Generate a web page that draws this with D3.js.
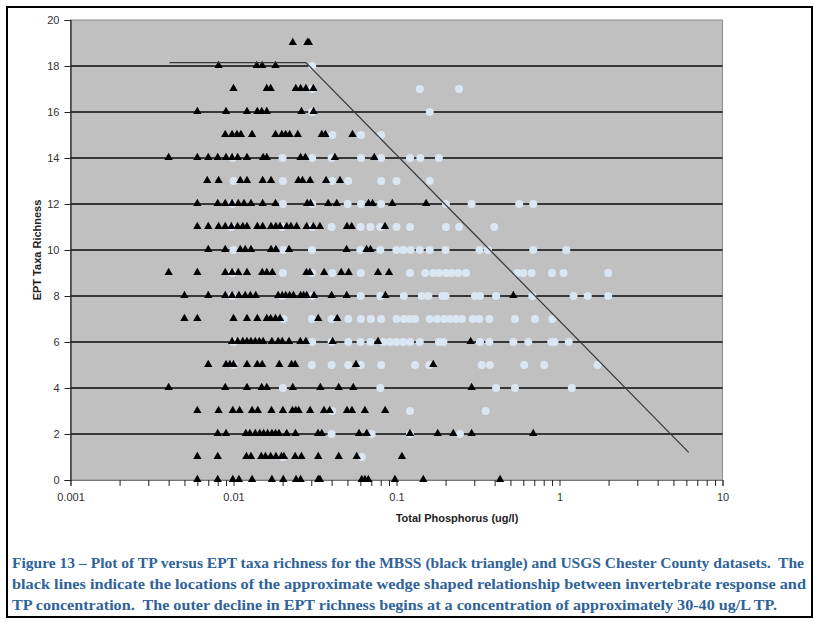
<!DOCTYPE html>
<html>
<head>
<meta charset="utf-8">
<script src="https://cdn.jsdelivr.net/npm/d3@7"></script>
<style>
  html, body { margin: 0; padding: 0; background: #fff; }
  svg { display: block; }
  .caption { white-space: pre; }
</style>
</head>
<body>
<svg id="chart" width="815" height="623"></svg>
<script>
// Total phosphorus (TP) values grouped by EPT taxa richness (array index = richness).
const mbssTP = [
  /* 0 */ [0.0060, 0.0080, 0.0099, 0.0108, 0.0130, 0.0172, 0.0202, 0.0242, 0.0258, 0.0331, 0.0339, 0.0612, 0.0640, 0.0671, 0.0978, 0.146, 0.432],
  /* 1 */ [0.0060, 0.0080, 0.0120, 0.0128, 0.0148, 0.0157, 0.0169, 0.0182, 0.0197, 0.0204, 0.0239, 0.0261, 0.0331, 0.0442, 0.0570, 0.108],
  /* 2 */ [0.0080, 0.0090, 0.0119, 0.0126, 0.0136, 0.0145, 0.0153, 0.0162, 0.0172, 0.0181, 0.0190, 0.0212, 0.0240, 0.0330, 0.0348, 0.0589, 0.0657, 0.121, 0.179, 0.223, 0.289, 0.690],
  /* 3 */ [0.0060, 0.0081, 0.0099, 0.0109, 0.0130, 0.0141, 0.0171, 0.0201, 0.0230, 0.0241, 0.0251, 0.0295, 0.0359, 0.0389, 0.0497, 0.0533, 0.0640, 0.0852],
  /* 4 */ [0.0040, 0.0089, 0.0121, 0.0149, 0.0160, 0.0231, 0.0341, 0.0442, 0.0543, 0.289],
  /* 5 */ [0.0070, 0.0090, 0.0095, 0.0100, 0.0121, 0.0140, 0.0150, 0.0191, 0.0227, 0.0239, 0.0564, 0.168],
  /* 6 */ [0.0098, 0.0106, 0.0114, 0.0121, 0.0128, 0.0136, 0.0144, 0.0152, 0.0172, 0.0188, 0.0199, 0.0219, 0.0257, 0.0278, 0.0406, 0.0770, 0.285],
  /* 7 */ [0.0050, 0.0060, 0.0100, 0.0121, 0.0140, 0.0160, 0.0169, 0.0181, 0.0193, 0.0331, 0.0433],
  /* 8 */ [0.0050, 0.0070, 0.0089, 0.0098, 0.0108, 0.0118, 0.0127, 0.0137, 0.0188, 0.0199, 0.0209, 0.0221, 0.0233, 0.0258, 0.0269, 0.0281, 0.0312, 0.0400, 0.0495, 0.0855, 0.521],
  /* 9 */ [0.0040, 0.0060, 0.0089, 0.0098, 0.0107, 0.0121, 0.0150, 0.0160, 0.0173, 0.0280, 0.0294, 0.0360, 0.0458, 0.0509, 0.0770, 0.0900],
  /* 10 */ [0.0070, 0.0089, 0.0110, 0.0118, 0.0128, 0.0170, 0.0182, 0.0219, 0.0494, 0.0655, 0.0692],
  /* 11 */ [0.0060, 0.0070, 0.0081, 0.0089, 0.0097, 0.0106, 0.0114, 0.0121, 0.0140, 0.0151, 0.0170, 0.0182, 0.0193, 0.0212, 0.0225, 0.0244, 0.0281, 0.0309, 0.0339, 0.0497, 0.0531, 0.0850],
  /* 12 */ [0.0060, 0.0080, 0.0089, 0.0098, 0.0107, 0.0116, 0.0128, 0.0151, 0.0181, 0.0283, 0.0297, 0.0381, 0.0430, 0.0673, 0.0713, 0.0942, 0.152],
  /* 13 */ [0.0069, 0.0081, 0.0110, 0.0121, 0.0151, 0.0170, 0.0250, 0.0265, 0.0295, 0.0370, 0.0450],
  /* 14 */ [0.0040, 0.0060, 0.0070, 0.0080, 0.0090, 0.0098, 0.0106, 0.0121, 0.0152, 0.0160, 0.0258, 0.0276, 0.0419, 0.0730],
  /* 15 */ [0.0089, 0.0098, 0.0105, 0.0111, 0.0130, 0.0181, 0.0198, 0.0209, 0.0221, 0.0248, 0.0348, 0.0366, 0.0537],
  /* 16 */ [0.0060, 0.0090, 0.0121, 0.0140, 0.0149, 0.0160, 0.0261, 0.0310],
  /* 17 */ [0.0100, 0.0160, 0.0169, 0.0241, 0.0258, 0.0278, 0.0309],
  /* 18 */ [0.0081, 0.0139, 0.0150, 0.0181],
  /* 19 */ [0.0231, 0.0284, 0.0290]
];

const usgsTP = [
  /* 0 */ [],
  /* 1 */ [0.0201, 0.0612],
  /* 2 */ [0.0400, 0.0704, 0.121, 0.245],
  /* 3 */ [0.0403, 0.121, 0.352],
  /* 4 */ [0.0201, 0.0796, 0.408, 0.533, 1.19],
  /* 5 */ [0.0100, 0.0302, 0.0400, 0.0506, 0.0604, 0.0805, 0.130, 0.159, 0.333, 0.374, 0.608, 0.806, 1.71],
  /* 6 */ [0.0100, 0.0304, 0.0400, 0.0506, 0.0602, 0.0692, 0.0831, 0.0912, 0.100, 0.110, 0.121, 0.139, 0.182, 0.194, 0.325, 0.371, 0.521, 0.643, 0.890, 0.933, 1.14],
  /* 7 */ [0.0203, 0.0303, 0.0400, 0.0506, 0.0604, 0.0697, 0.0805, 0.100, 0.111, 0.121, 0.130, 0.160, 0.177, 0.196, 0.213, 0.232, 0.252, 0.294, 0.322, 0.371, 0.533, 0.707, 0.904],
  /* 8 */ [0.0098, 0.0199, 0.0303, 0.0604, 0.0796, 0.111, 0.143, 0.157, 0.191, 0.200, 0.303, 0.325, 0.408, 0.681, 1.22, 1.49, 1.99],
  /* 9 */ [0.0098, 0.0201, 0.0303, 0.0403, 0.0604, 0.121, 0.150, 0.168, 0.182, 0.201, 0.218, 0.239, 0.267, 0.551, 0.600, 0.675, 0.900, 1.06, 1.99],
  /* 10 */ [0.0100, 0.0202, 0.0303, 0.0600, 0.0795, 0.0997, 0.110, 0.122, 0.139, 0.160, 0.200, 0.323, 0.364, 0.690, 1.10],
  /* 11 */ [0.0097, 0.0199, 0.0304, 0.0400, 0.0602, 0.0692, 0.0796, 0.100, 0.121, 0.201, 0.242, 0.398],
  /* 12 */ [0.0098, 0.0201, 0.0304, 0.0502, 0.0606, 0.0805, 0.201, 0.289, 0.566, 0.690],
  /* 13 */ [0.0100, 0.0201, 0.0403, 0.0506, 0.0805, 0.100, 0.160],
  /* 14 */ [0.0099, 0.0200, 0.0304, 0.0400, 0.0606, 0.0805, 0.121, 0.140, 0.182],
  /* 15 */ [0.0404, 0.0606, 0.0805],
  /* 16 */ [0.0304, 0.160],
  /* 17 */ [0.0304, 0.139, 0.242],
  /* 18 */ [0.0304]
];

// Approximate wedge boundary: flat ceiling, then the outer decline.
const wedgeTP  = [0.00405, 0.0278, 6.2];
const wedgeEPT = [18.15, 18.15, 1.2];

const xTickLabels = ["0.001", "0.01", "0.1", "1", "10"];
const yTicks = [0, 2, 4, 6, 8, 10, 12, 14, 16, 18, 20];
const gridLevels = [2, 4, 6, 8, 10, 12, 14, 16, 18];

const xTitle = "Total Phosphorus (ug/l)";
const yTitle = "EPT Taxa Richness";
const captionLines = [
  "Figure 13 \u2013 Plot of TP versus EPT taxa richness for the MBSS (black triangle) and USGS Chester County datasets.  The",
  "black lines indicate the locations of the approximate wedge shaped relationship between invertebrate response and",
  "TP concentration.  The outer decline in EPT richness begins at a concentration of approximately 30-40 ug/L TP."
];

// ---------------------------------------------------------------------------
const svg = d3.select("#chart");
const plot = { left: 70.5, right: 722.5, top: 20, bottom: 480 };

const x = d3.scaleLog().domain([0.001, 10]).range([plot.left, plot.right]);
const y = d3.scaleLinear().domain([0, 20]).range([plot.bottom, plot.top]);

const flatten = rows => rows.flatMap((vals, ept) => vals.map(tp => ({ tp, ept })));
const mbss = flatten(mbssTP);
const usgs = flatten(usgsTP);

// Outer figure frame
svg.append("rect")
  .attr("x", 7).attr("y", 7).attr("width", 805).attr("height", 610)
  .attr("fill", "#fff").attr("stroke", "#000").attr("stroke-width", 2);

// Plot background
svg.append("rect")
  .attr("x", plot.left).attr("y", plot.top)
  .attr("width", plot.right - plot.left).attr("height", plot.bottom - plot.top)
  .attr("fill", "#c0c0c0").attr("stroke", "#8a8a8a").attr("stroke-width", 1);

// Horizontal gridlines
svg.append("g").selectAll("line").data(gridLevels).join("line")
  .attr("x1", plot.left).attr("x2", plot.right)
  .attr("y1", d => y(d)).attr("y2", d => y(d))
  .attr("stroke", "#0a0a0a").attr("stroke-width", 1.4);

// Axes
const decades = [0.001, 0.01, 0.1, 1];
const xTickValues = decades.flatMap(d => d3.range(1, 10).map(m => +(m * d).toPrecision(3))).concat([10]);
const xAxis = d3.axisBottom(x)
  .tickValues(xTickValues)
  .tickSize(6)
  .tickFormat(v => {
    const i = [0.001, 0.01, 0.1, 1, 10].findIndex(p => Math.abs(p - v) < 1e-9);
    return i >= 0 ? xTickLabels[i] : "";
  });
const gx = svg.append("g").attr("transform", `translate(0,${plot.bottom})`).call(xAxis);
gx.select(".domain").attr("stroke", "#777").attr("stroke-width", 1.2);
gx.selectAll(".tick line").attr("stroke", "#222");
gx.selectAll(".tick text")
  .attr("dy", "0").attr("y", 21)
  .attr("font-family", "Liberation Sans, Arial, sans-serif").attr("font-size", 11).attr("fill", "#333");

const yAxis = d3.axisLeft(y).tickValues(yTicks).tickSize(6).tickFormat(d3.format("d"));
const gy = svg.append("g").attr("transform", `translate(${plot.left},0)`).call(yAxis);
gy.select(".domain").attr("stroke", "#222").attr("stroke-width", 1.2);
gy.selectAll(".tick line").attr("stroke", "#222");
gy.selectAll(".tick text")
  .attr("x", -11)
  .attr("font-family", "Liberation Sans, Arial, sans-serif").attr("font-size", 11).attr("fill", "#333");

// Axis titles
svg.append("text")
  .attr("x", 457).attr("y", 522).attr("text-anchor", "middle")
  .attr("font-family", "Liberation Sans, Arial, sans-serif").attr("font-size", 11).attr("font-weight", "bold")
  .attr("fill", "#222").text(xTitle);
svg.append("text")
  .attr("transform", "translate(41,250) rotate(-90)").attr("text-anchor", "middle")
  .attr("font-family", "Liberation Sans, Arial, sans-serif").attr("font-size", 11).attr("font-weight", "bold")
  .attr("fill", "#222").text(yTitle);

// USGS Chester County sites (light circles)
svg.append("g").selectAll("circle").data(usgs).join("circle")
  .attr("cx", d => x(d.tp)).attr("cy", d => y(d.ept)).attr("r", 4)
  .attr("fill", "#dbe6f3");

// MBSS sites (black triangles)
const tri = d3.symbol().type(d3.symbolTriangle).size(30);
svg.append("g").selectAll("path").data(mbss).join("path")
  .attr("d", tri)
  .attr("transform", d => `translate(${x(d.tp)},${y(d.ept) - 0.5})`)
  .attr("fill", "#000");

// Wedge boundary
const wedge = wedgeTP.map((tp, i) => [x(tp), y(wedgeEPT[i])]);
svg.append("path")
  .attr("d", d3.line()(wedge))
  .attr("fill", "none").attr("stroke", "#3a3a3a").attr("stroke-width", 1.3);

// Caption
svg.append("g").selectAll("text").data(captionLines).join("text")
  .attr("class", "caption")
  .attr("x", 12).attr("y", (d, i) => 568 + i * 21)
  .attr("textLength", (d, i) => [792, 794, 765][i]).attr("lengthAdjust", "spacingAndGlyphs")
  .attr("font-family", "Liberation Serif, DejaVu Serif, serif").attr("font-size", 14).attr("font-weight", "bold")
  .attr("fill", "#2f6399").text(d => d);
</script>
</body>
</html>
